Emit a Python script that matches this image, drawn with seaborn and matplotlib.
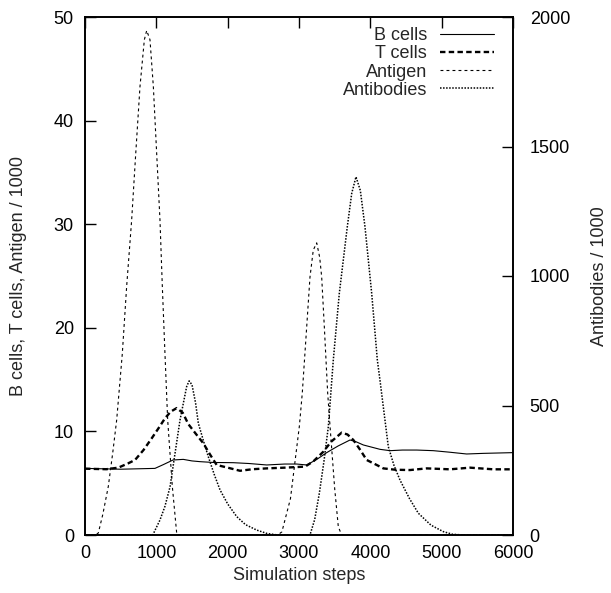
import matplotlib
matplotlib.use("Agg")
import matplotlib.pyplot as plt
import seaborn as sns
import pandas as pd

# ---------------- data ----------------
b_steps = [0, 500, 981, 1100, 1234, 1378, 1500, 1612, 1800, 2079, 2300, 2547, 2800,
           2967, 3108, 3250, 3388, 3550, 3715, 3800, 3902, 4135, 4275, 4450, 4650,
           4883, 5100, 5350, 5584, 6000]
b_cells = [6.43, 6.35, 6.43, 6.8, 7.24, 7.3, 7.15, 7.08, 7.0, 6.98, 6.9, 6.76, 6.85,
           6.85, 6.76, 7.3, 7.95, 8.6, 9.17, 9.0, 8.69, 8.27, 8.14, 8.2, 8.2,
           8.14, 8.0, 7.82, 7.88, 7.95]

t_steps = [0, 300, 467, 600, 701, 820, 935, 1030, 1121, 1200, 1285, 1370, 1449, 1550,
           1659, 1750, 1846, 2000, 2173, 2350, 2547, 2800, 3084, 3200, 3341, 3450,
           3598, 3680, 3762, 3850, 3949, 4089, 4182, 4350, 4556, 4790, 5117, 5397,
           5724, 6000]
t_cells = [6.4, 6.35, 6.5, 6.9, 7.24, 8.2, 9.33, 10.3, 11.26, 11.9, 12.25, 11.8, 10.7,
           9.8, 8.85, 7.8, 6.76, 6.5, 6.2, 6.35, 6.43, 6.5, 6.6, 7.1, 8.04, 9.0,
           9.88, 9.7, 9.17, 8.3, 7.24, 6.76, 6.43, 6.3, 6.27, 6.43, 6.34, 6.5,
           6.34, 6.34]

ag_steps = [0, 150, 187, 250, 327, 390, 444, 523, 584, 654, 711, 771, 832, 865, 911,
            958, 1005, 1051, 1084, 1121, 1159, 1224, 1285, 1300, 2700, 2760, 2880,
            3005, 3046, 3108, 3154, 3200, 3248, 3290, 3318, 3355, 3402, 3435, 3500,
            3551, 3598, 6000]
antigen = [0, 0, 0.2, 2.0, 4.7, 8.0, 11.1, 17.5, 24.0, 30.4, 36.8, 43.3, 47.8, 48.7,
           47.8, 43.3, 36.8, 30.4, 24.0, 17.5, 11.1, 4.7, 0.2, 0, 0, 0.3, 3.5,
           10.5, 13.7, 20.1, 24.9, 27.5, 28.2, 26.8, 24.9, 20.1, 13.7, 10.5, 4.5,
           0.8, 0, 0]

ab_steps = [0, 950, 1051, 1120, 1192, 1262, 1332, 1425, 1460, 1500, 1550, 1589, 1659,
            1729, 1810, 1893, 2000, 2127, 2250, 2407, 2550, 2700, 3154, 3220, 3285,
            3350, 3411, 3481, 3565, 3677, 3739, 3799, 3860, 3925, 4019, 4098, 4135,
            4252, 4330, 4416, 4550, 4673, 4850, 5023, 5150, 5300, 6000]
antibodies = [0, 0, 58, 110, 186, 315, 444, 573, 595, 580, 510, 431, 365,
              302, 235, 174, 120, 71, 40, 19, 6, 0, 0, 60, 161,
              285, 418, 676, 933, 1190, 1319, 1383, 1330, 1190, 933, 676, 598,
              341, 270, 212, 140, 84, 38, 13, 3, 0, 0]

x_ticks = [0, 1000, 2000, 3000, 4000, 5000, 6000]
y_ticks = [0, 10, 20, 30, 40, 50]
y2_ticks = [0, 500, 1000, 1500, 2000]

# ---------------- style ----------------
sns.set_style("white")
plt.rcParams["font.family"] = ["Liberation Sans", "DejaVu Sans"]
plt.rcParams["font.size"] = 13

fig = plt.figure(figsize=(6.11, 5.93), dpi=100)
ax = fig.add_axes([85 / 611, 1 - 535 / 593, (513 - 85) / 611, (535 - 17) / 593])
ax2 = ax.twinx()

sns.lineplot(x=b_steps, y=b_cells, ax=ax, color="black", lw=0.8,
             linestyle="-", label="B cells")
sns.lineplot(x=t_steps, y=t_cells, ax=ax, color="black", lw=1.7,
             linestyle=(0, (2.3, 1.4)), label="T cells")
sns.lineplot(x=ag_steps, y=antigen, ax=ax, color="black", lw=0.8,
             linestyle=(0, (2.6, 2.8)), label="Antigen")
sns.lineplot(x=ab_steps, y=antibodies, ax=ax2, color="black", lw=1.1,
             linestyle=(0, (1, 1)), label="Antibodies")

ax.set_xlim(0, 6000)
ax.set_ylim(0, 50)
ax2.set_ylim(0, 2000)
ax.set_xticks(x_ticks)
ax.set_yticks(y_ticks)
ax2.set_yticks(y2_ticks)

ax.tick_params(axis="x", direction="in", length=8, width=1, top=True,
               labelsize=13, pad=7, colors="black")
ax.tick_params(axis="y", direction="in", length=8, width=1, right=False,
               labelsize=13, pad=8, colors="black")
ax2.tick_params(axis="y", direction="in", length=8, width=1, left=False,
                labelsize=13, pad=12, colors="black")

for a in (ax, ax2):
    for s in a.spines.values():
        s.set_linewidth(1.2)
        s.set_color("black")

ax.set_xlabel("Simulation steps", fontsize=13, labelpad=4)
ax.set_ylabel("B cells, T cells, Antigen / 1000", fontsize=13, labelpad=19)
ax2.set_ylabel("Antibodies / 1000", fontsize=13, labelpad=15)

h1, l1 = ax.get_legend_handles_labels()
h2, l2 = ax2.get_legend_handles_labels()
if ax.get_legend() is not None:
    ax.get_legend().remove()
if ax2.get_legend() is not None:
    ax2.get_legend().remove()
ax2.legend(h1 + h2, l1 + l2, loc="upper right", bbox_to_anchor=(0.955, 0.98),
           frameon=False, markerfirst=False, fontsize=13, handlelength=3.0,
           handletextpad=0.7, labelspacing=0.06, borderaxespad=0.0,
           borderpad=0.0)

fig.savefig("out.png", dpi=100)
